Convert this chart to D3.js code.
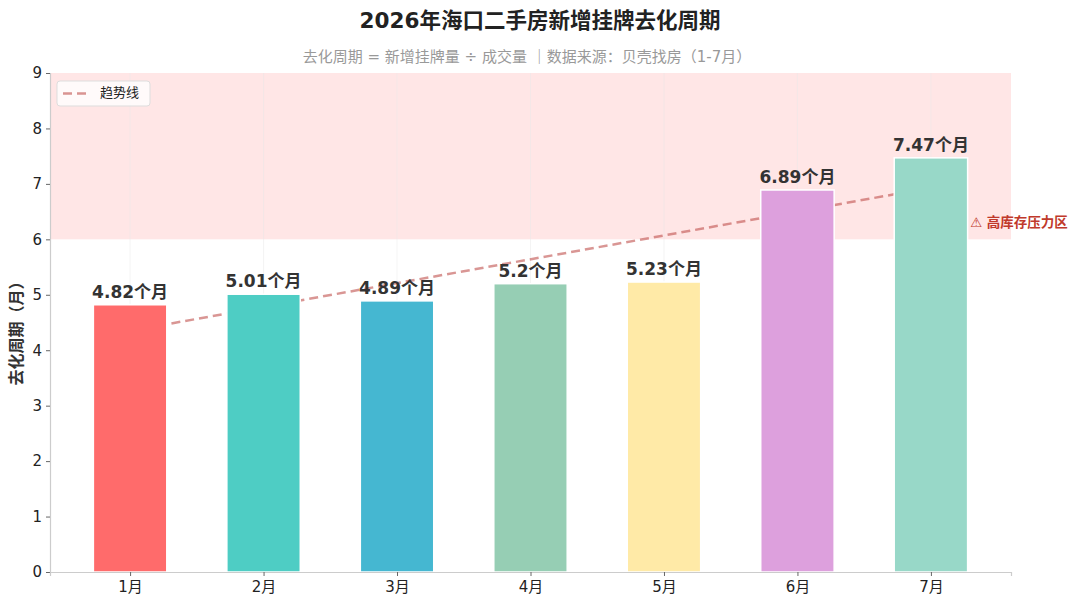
<!DOCTYPE html>
<html>
<head>
<meta charset="utf-8">
<script src="https://cdn.jsdelivr.net/npm/d3@7"></script>
<style>
  html, body { margin: 0; padding: 0; background: #fff; }
  svg { display: block; font-family: "DejaVu Sans", "Noto Sans CJK SC", sans-serif; }
</style>
</head>
<body>
<div id="chart"></div>
<script>
const months = ["1月", "2月", "3月", "4月", "5月", "6月", "7月"];
const cycleValues = [4.82, 5.01, 4.89, 5.2, 5.23, 6.89, 7.47];
const barColors = ["#FF6B6B", "#4ECDC4", "#45B7D1", "#96CEB4", "#FFEAA7", "#DDA0DD", "#98D8C8"];
const trendValues = [4.35, 6.93];   // trend line at 1月 and 7月
const yTicks = [0, 1, 2, 3, 4, 5, 6, 7, 8, 9];
const pressureBand = [6, 9];

const width = 1080;
const height = 601;
const margin = {top: 73, right: 69, bottom: 29, left: 50};

const svg = d3.select("#chart").append("svg")
    .attr("width", width)
    .attr("height", height)
    .attr("viewBox", [0, 0, width, height]);

const x = d3.scaleLinear()
    .domain([-0.6, months.length - 0.4])
    .range([margin.left, width - margin.right]);

const y = d3.scaleLinear()
    .domain([0, 9])
    .range([height - margin.bottom, margin.top]);

const barWidth = x(0.55) - x(0);

// title
svg.append("text")
    .attr("x", 540).attr("y", 28)
    .attr("text-anchor", "middle")
    .attr("font-size", 21.5).attr("font-weight", "bold")
    .attr("fill", "#222")
    .text("2026年海口二手房新增挂牌去化周期");

svg.append("text")
    .attr("x", 527).attr("y", 62)
    .attr("text-anchor", "middle")
    .attr("font-size", 15)
    .attr("fill", "#999")
    .text("去化周期 = 新增挂牌量 ÷ 成交量 ｜数据来源：贝壳找房（1-7月）");

// high pressure zone
svg.append("rect")
    .attr("x", x.range()[0])
    .attr("y", y(pressureBand[1]))
    .attr("width", x.range()[1] - x.range()[0])
    .attr("height", y(pressureBand[0]) - y(pressureBand[1]))
    .attr("fill", "#ffe6e6");

// vertical grid
svg.append("g")
    .selectAll("line")
    .data(months)
    .join("line")
    .attr("x1", (d, i) => x(i)).attr("x2", (d, i) => x(i))
    .attr("y1", y(9)).attr("y2", y(0))
    .attr("stroke", "#e8e8e8")
    .attr("stroke-opacity", 0.6)
    .attr("stroke-width", 0.8);

// trend line (behind bars)
svg.append("line")
    .attr("x1", x(0)).attr("y1", y(trendValues[0]))
    .attr("x2", x(months.length - 1)).attr("y2", y(trendValues[1]))
    .attr("stroke", "#c0504d")
    .attr("stroke-opacity", 0.6)
    .attr("stroke-width", 2.5)
    .attr("stroke-dasharray", "9,5");

// bars
svg.append("g")
    .selectAll("rect")
    .data(cycleValues)
    .join("rect")
    .attr("x", (d, i) => x(i) - barWidth / 2)
    .attr("y", d => y(d))
    .attr("width", barWidth)
    .attr("height", d => y(0) - y(d))
    .attr("fill", (d, i) => barColors[i])
    .attr("stroke", "#fff")
    .attr("stroke-width", 1.5);

// value labels
svg.append("g")
    .selectAll("text")
    .data(cycleValues)
    .join("text")
    .attr("x", (d, i) => x(i))
    .attr("y", d => y(d) - 7)
    .attr("text-anchor", "middle")
    .attr("font-size", 17).attr("font-weight", "bold")
    .attr("fill", "#333")
    .text(d => d + "个月");

// zone label
svg.append("text")
    .attr("x", 970).attr("y", y(6.3))
    .attr("dominant-baseline", "middle")
    .attr("font-size", 13.5).attr("font-weight", "bold")
    .attr("fill", "#c0392b")
    .text("⚠ 高库存压力区");

// axes
const yAxis = svg.append("g")
    .attr("transform", `translate(${margin.left},0)`)
    .call(d3.axisLeft(y).tickValues(yTicks).tickSize(4).tickPadding(4));

const xAxis = svg.append("g")
    .attr("transform", `translate(0,${y(0)})`)
    .call(d3.axisBottom(x)
        .tickValues(d3.range(months.length))
        .tickFormat(i => months[i])
        .tickSize(4).tickPadding(5));

[yAxis, xAxis].forEach(a => {
    a.select(".domain").attr("stroke", "#ccc").attr("stroke-width", 1.2);
    a.selectAll(".tick line").attr("stroke", "#666");
    a.selectAll(".tick text")
        .attr("font-size", 15)
        .attr("fill", "#222")
        .attr("font-family", "\"DejaVu Sans\", \"Noto Sans CJK SC\", sans-serif");
});

// y label
svg.append("text")
    .attr("transform", `translate(22,${(y(0) + y(9)) / 2 + 7}) rotate(-90)`)
    .attr("text-anchor", "middle")
    .attr("font-size", 16).attr("font-weight", "bold")
    .attr("fill", "#333")
    .text("去化周期（月）");

// legend
const legend = svg.append("g").attr("transform", "translate(57,81)");
legend.append("rect")
    .attr("width", 93).attr("height", 25)
    .attr("rx", 3)
    .attr("fill", "#fff").attr("fill-opacity", 0.8)
    .attr("stroke", "#ddd");
legend.append("line")
    .attr("x1", 6).attr("x2", 34)
    .attr("y1", 12.5).attr("y2", 12.5)
    .attr("stroke", "#c0504d")
    .attr("stroke-opacity", 0.6)
    .attr("stroke-width", 2.5)
    .attr("stroke-dasharray", "9,5");
legend.append("text")
    .attr("x", 43).attr("y", 12.5)
    .attr("dominant-baseline", "middle")
    .attr("font-size", 13)
    .attr("fill", "#222")
    .text("趋势线");
</script>
</body>
</html>
